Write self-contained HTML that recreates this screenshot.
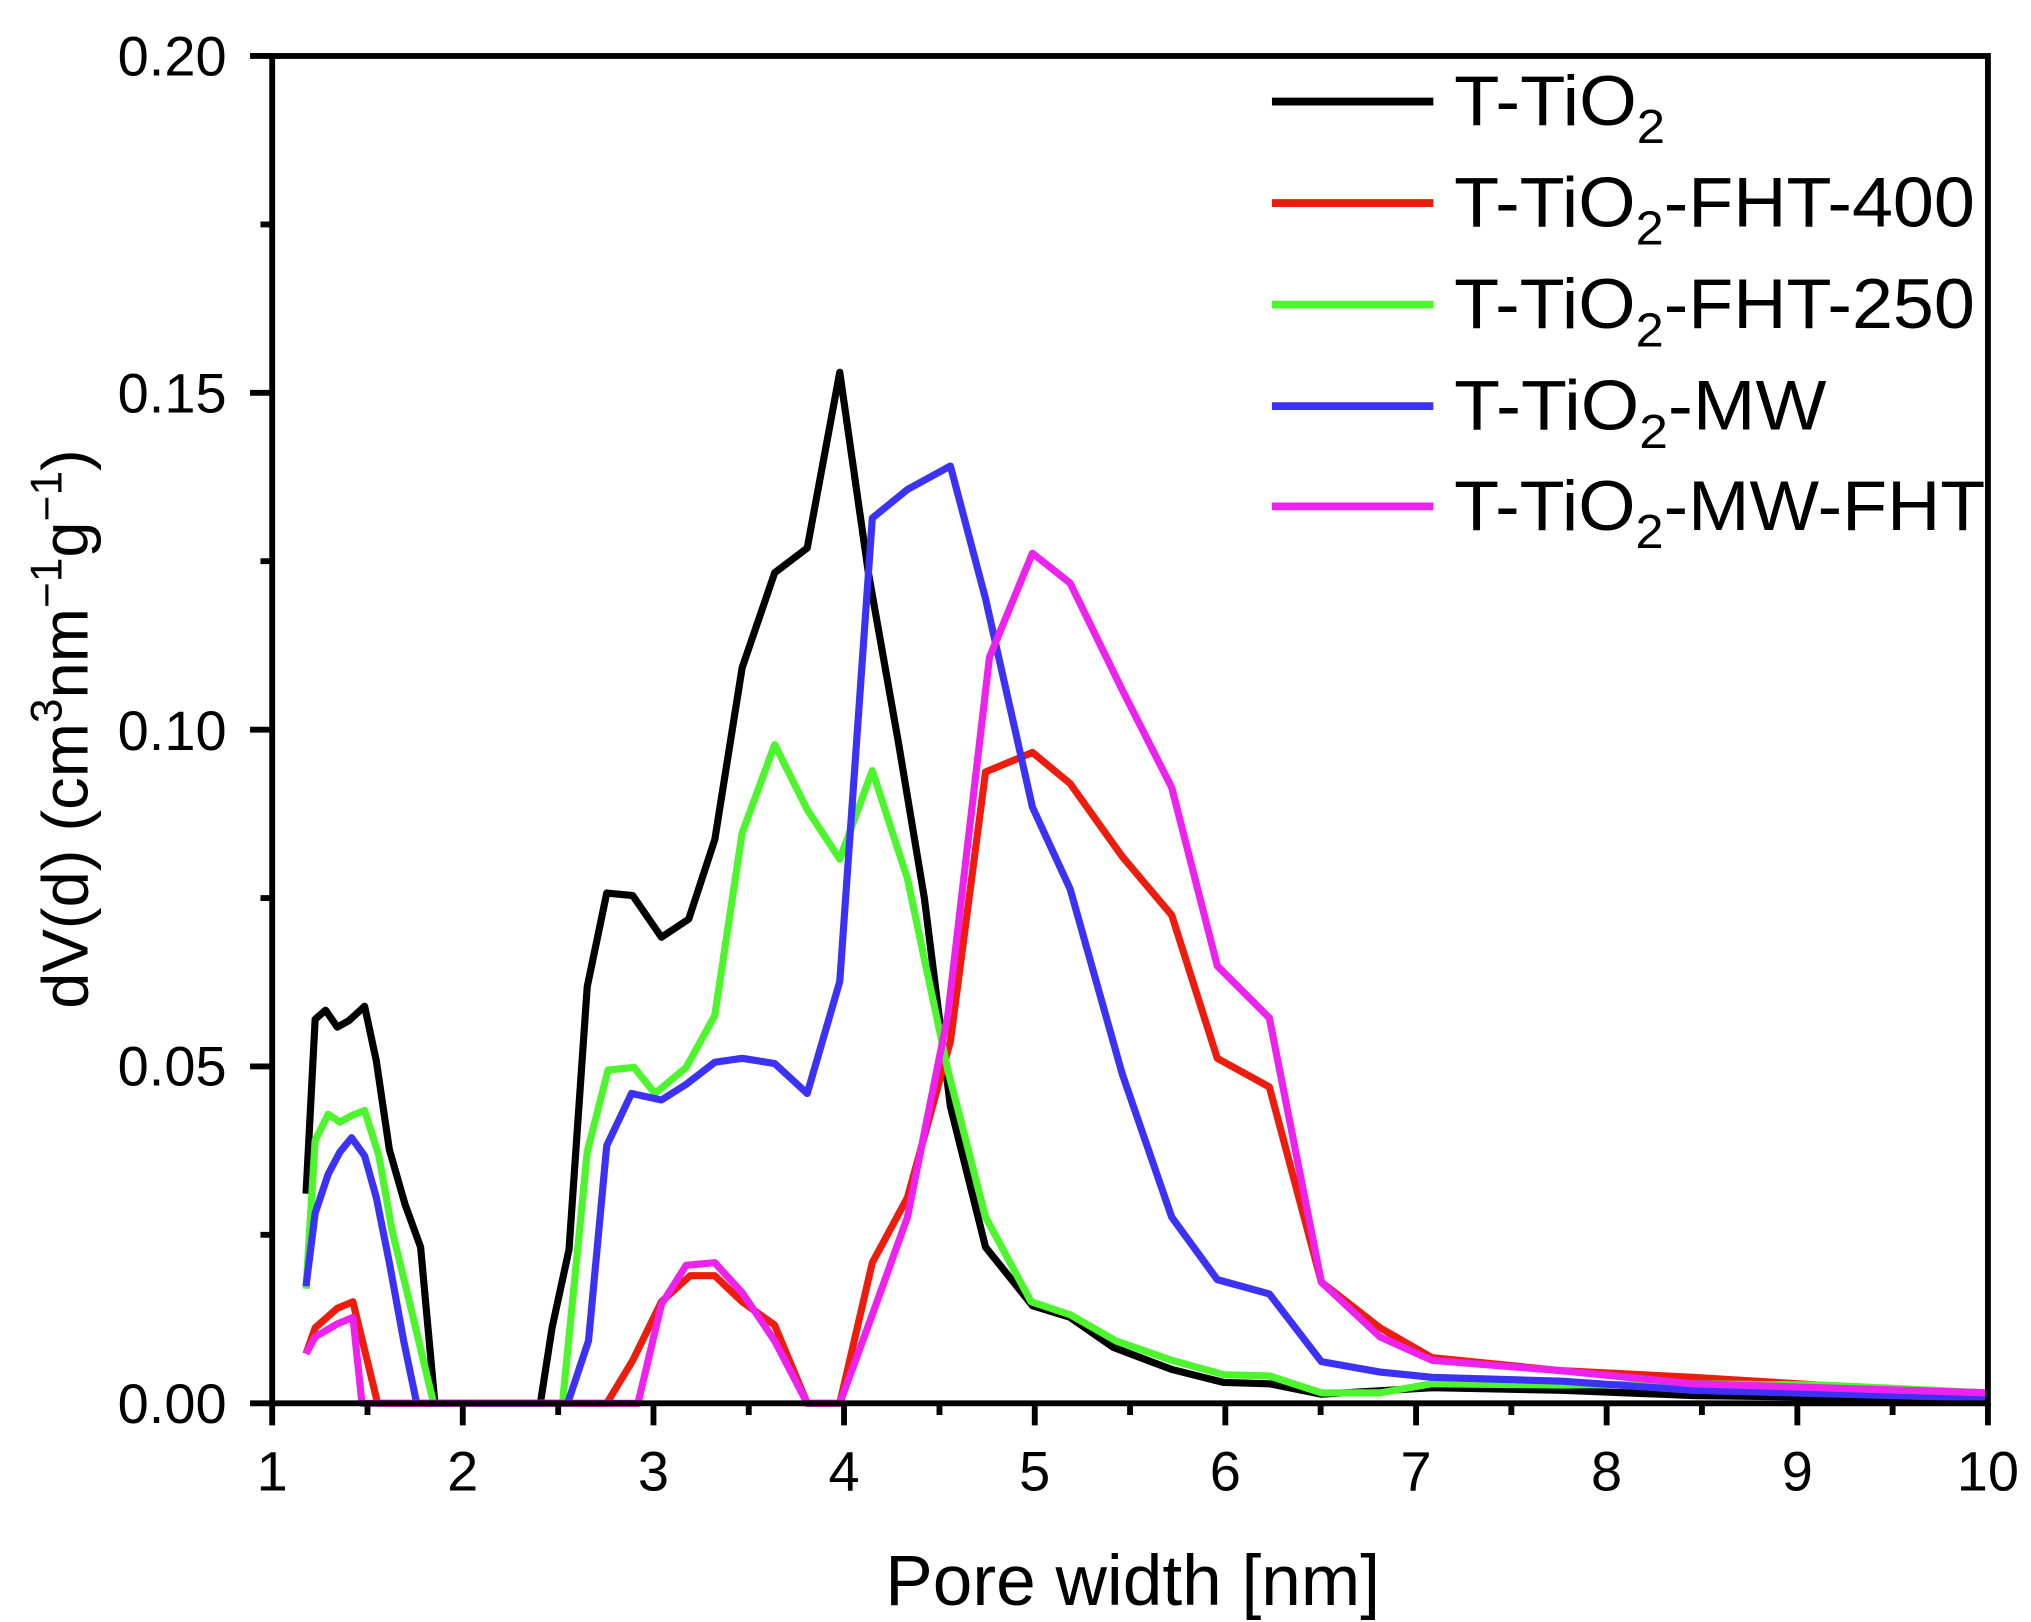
<!DOCTYPE html>
<html><head><meta charset="utf-8"><style>html,body{margin:0;padding:0;background:#fff}svg{display:block}</style></head>
<body>
<svg width="2031" height="1622" viewBox="0 0 1560 1246" xmlns="http://www.w3.org/2000/svg" font-family="Liberation Sans, Arial, sans-serif">
<rect width="1560" height="1246" fill="#fff"/>
<g fill="none" stroke-linejoin="round" stroke-width="5.5">
<polyline stroke="#000" points="235,917 242,783 250,776 259,789 268,784 280,773 289,815 299,883 311,925 323,958 334,1078 415,1078 424,1020 437,960 451,758 466,686 486,688 508,720 529,706 549,645 570,513 595,440 620,421 645,286 667,440 690,570 710,690 730,850 757,958 793,1003 822,1012 855,1035 900,1052 940,1062 975,1063 1015,1071 1100,1066 1200,1068 1300,1072 1527,1075"/>
<polyline stroke="#ee1c0c" points="235,1040 242,1020 259,1005 271,1000 290,1078 466,1078 486,1045 508,1000 530,980 549,980 570,1000 595,1018 620,1078 645,1078 670,970 697,920 730,800 757,593 793,578 822,602 862,658 900,703 935,813 975,835 1015,985 1060,1020 1100,1043 1200,1053 1300,1058 1527,1072"/>
<polyline stroke="#4cf52c" points="235,990 242,876 252,856 261,862 270,857 280,853 291,888 301,945 312,990 333,1078 432,1078 451,885 467,822 487,820 503,840 527,820 549,780 570,640 595,572 620,622 645,660 670,592 697,675 728,822 757,935 792,1000 822,1010 857,1030 900,1045 940,1056 975,1057 1015,1070 1060,1070 1100,1063 1200,1064 1300,1063 1400,1064 1527,1070"/>
<polyline stroke="#3c32f5" points="235,988 242,932 252,902 261,885 270,874 280,888 289,920 299,970 310,1030 320,1078 436,1078 452,1030 466,880 485,840 508,845 527,833 549,816 570,813 595,817 620,840 645,754 670,398 697,376 730,358 757,460 793,620 822,683 862,825 900,935 935,983 975,994 1015,1046 1060,1054 1100,1058 1200,1061 1300,1068 1527,1074"/>
<polyline stroke="#ee22ee" points="235,1040 242,1027 259,1017 271,1012 278,1078 490,1078 508,1002 527,972 549,970 570,993 595,1030 620,1078 645,1078 670,1010 697,935 728,780 760,505 793,425 822,448 862,530 900,605 935,742 975,782 1015,985 1060,1027 1100,1045 1200,1053 1300,1063 1527,1070"/>
</g>
<rect x="209" y="43" width="1318" height="1035" fill="none" stroke="#000" stroke-width="4.5"/>
<g stroke="#000" stroke-width="4.5">
<path d="M209,1078v17M355.4,1078v17M501.9,1078v17M648.3,1078v17M794.8,1078v17M941.2,1078v17M1087.7,1078v17M1234.1,1078v17M1380.6,1078v17M1527,1078v17"/>
<path d="M282.2,1078v9M428.7,1078v9M575.1,1078v9M721.6,1078v9M868,1078v9M1014.4,1078v9M1160.9,1078v9M1307.3,1078v9M1453.8,1078v9"/>
<path d="M209,1078h-17M209,819.25h-17M209,560.5h-17M209,301.75h-17M209,43h-17"/>
<path d="M209,948.6h-9M209,689.9h-9M209,431.1h-9M209,172.4h-9"/>
</g>
<g font-size="43" text-anchor="middle" fill="#000">
<text x="209" y="1145">1</text><text x="355.4" y="1145">2</text><text x="501.9" y="1145">3</text><text x="648.3" y="1145">4</text><text x="794.8" y="1145">5</text><text x="941.2" y="1145">6</text><text x="1087.7" y="1145">7</text><text x="1234.1" y="1145">8</text><text x="1380.6" y="1145">9</text><text x="1527" y="1145">10</text>
</g>
<g font-size="43" text-anchor="end" fill="#000">
<text x="174" y="1093">0.00</text><text x="174" y="834">0.05</text><text x="174" y="576">0.10</text><text x="174" y="317">0.15</text><text x="174" y="58">0.20</text>
</g>
<text x="870" y="1233" font-size="55" text-anchor="middle" textLength="380" lengthAdjust="spacingAndGlyphs">Pore width [nm]</text>
<text transform="translate(67,560) rotate(-90)" font-size="50" text-anchor="middle">dV(d) (cm<tspan font-size="34" dy="-20">3</tspan><tspan dy="20">nm</tspan><tspan font-size="34" dy="-20">−1</tspan><tspan dy="20">g</tspan><tspan font-size="34" dy="-20">−1</tspan><tspan dy="20">)</tspan></text>
<g stroke-width="6">
<line x1="977" y1="78" x2="1101" y2="78" stroke="#000"/>
<line x1="977" y1="156" x2="1101" y2="156" stroke="#ee1c0c"/>
<line x1="977" y1="234" x2="1101" y2="234" stroke="#4cf52c"/>
<line x1="977" y1="312" x2="1101" y2="312" stroke="#3c32f5"/>
<line x1="977" y1="389" x2="1101" y2="389" stroke="#ee22ee"/>
</g>
<g font-size="54" fill="#000">
<text x="1117" y="96" textLength="162" lengthAdjust="spacingAndGlyphs">T-TiO<tspan font-size="37" dy="14">2</tspan></text>
<text x="1117" y="174" textLength="400" lengthAdjust="spacingAndGlyphs">T-TiO<tspan font-size="37" dy="14">2</tspan><tspan dy="-14">-FHT-400</tspan></text>
<text x="1117" y="252" textLength="400" lengthAdjust="spacingAndGlyphs">T-TiO<tspan font-size="37" dy="14">2</tspan><tspan dy="-14">-FHT-250</tspan></text>
<text x="1117" y="330" textLength="286" lengthAdjust="spacingAndGlyphs">T-TiO<tspan font-size="37" dy="14">2</tspan><tspan dy="-14">-MW</tspan></text>
<text x="1117" y="407" textLength="408" lengthAdjust="spacingAndGlyphs">T-TiO<tspan font-size="37" dy="14">2</tspan><tspan dy="-14">-MW-FHT</tspan></text>
</g>
</svg>
</body></html>
